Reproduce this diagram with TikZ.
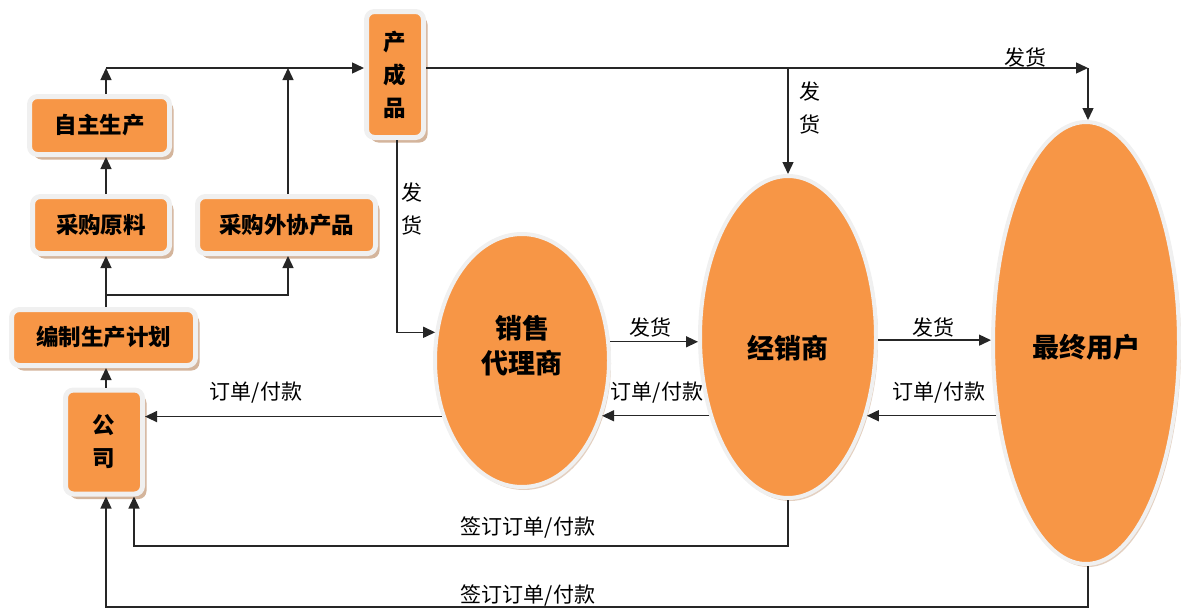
\documentclass[tikz,border=0pt]{standalone}
\usepackage{fontspec}
\setmainfont{Noto Sans CJK SC}
\usetikzlibrary{arrows.meta,shapes.geometric,shadows}
\definecolor{org}{HTML}{F79646}
\definecolor{rim}{HTML}{F0F0F0}
\definecolor{shd}{HTML}{C9A283}
\tikzset{
  box/.style={rectangle, rounded corners=8pt, fill=org, draw=rim, line width=5pt, inner sep=0pt,
    font=\bfseries\fontsize{22.5}{33}\selectfont, align=center,
    drop shadow={shadow xshift=4pt, shadow yshift=-5pt, fill=shd, opacity=0.8}},
  ell/.style={ellipse, fill=org, draw=rim, line width=4pt, inner sep=0pt,
    drop shadow={shadow xshift=2pt, shadow yshift=-3pt, fill=shd, opacity=0.5}},
  etxt/.style={font=\bfseries\fontsize{27}{35}\selectfont, align=center},
  arr/.style={-{Triangle[length=12pt,width=11pt]}, line width=1.4pt, draw=black!85},
  lbl/.style={font=\fontsize{21}{33}\selectfont, align=center, inner sep=0pt},
}
\begin{document}
\begin{tikzpicture}[x=1pt,y=-1pt]
\useasboundingbox (0,0) rectangle (1181,608);
% boxes
\node[box, minimum width=140pt, minimum height=58pt] (zizhu) at (99.5,125.5) {自主生产};
\node[box, minimum width=137pt, minimum height=57pt] (yuanliao) at (101,225) {采购原料};
\node[box, minimum width=178pt, minimum height=57pt] (waixie) at (286.5,225) {采购外协产品};
\node[box, minimum width=57pt, minimum height=126pt] (chan) at (395,74.5) {产\\成\\品};
\node[box, minimum width=184pt, minimum height=56pt] (plan) at (103.5,337.5) {编制生产计划};
\node[box, minimum width=77pt, minimum height=104pt] (company) at (104,442) {公\\司};
% ellipses
\node[ell, minimum width=174pt, minimum height=253pt,
  label={[etxt, yshift=15pt]center:销售\\代理商}] (agent) at (522,360.5) {};
\node[ell, minimum width=176pt, minimum height=322pt,
  label={[etxt, yshift=-11pt]center:经销商}] (dealer) at (788,337) {};
\node[ell, minimum width=186pt, minimum height=442pt,
  label={[etxt, yshift=-4pt]center:最终用户}] (user) at (1086,343) {};
% helper coordinates
\coordinate (L) at (106,0);
\coordinate (S) at (106,295);
\coordinate (S2) at (288,295);
\coordinate (T1) at (106,68);
\coordinate (T2) at (288,68);
\coordinate (T3) at (1088,68);
\coordinate (T4) at (788,68);
\coordinate (X1) at (397,0);
\coordinate (B1) at (0,546);
\coordinate (B2) at (134,0);
\coordinate (B3) at (0,607);
% left side
\draw[arr] (company.north -| L) -- (plan.south -| L);
\draw[arr] (plan.north -| L) -- (yuanliao.south -| L);
\draw[arr] (S) -| (waixie.south -| S2);
\draw[arr] (yuanliao.north -| L) -- (zizhu.south -| L);
\draw[arr] (zizhu.north -| L) -- (T1);
\draw[arr] (waixie.north -| T2) -- (T2);
\draw[arr] (T1) -- (chan.west |- T1);
% top distribution
\draw[arr] (chan.east |- T3) -- (T3);
\draw[arr] (T3) -- (user.north -| T3);
\draw[arr] (T4) -- (dealer.north);
\draw[arr] (chan.south -| X1) |- (agent.162.1);
% between ellipses
\draw[arr] (agent.12.8) -- (dealer.west |- agent.12.8);
\draw[arr] (dealer.-2.6) -- (user.west |- dealer.-2.6);
\draw[arr] (user.219.7) -- (dealer.-45.8 |- user.219.7);
\draw[arr] (dealer.225.8) -- (agent.-35.4 |- dealer.225.8);
\draw[arr] (agent.215.4) -- (company.east |- agent.215.4);
% bottom
\draw[arr] (dealer.south) -- (dealer.south |- B1) -| (company.south -| B2);
\draw[arr] (user.south -| T3) -- (T3 |- B3) -| (company.south -| L);
% labels
\node[lbl] (l1) at (1025,57) {发货};
\node[lbl] (l2) at (810,108) {发\\货};
\node[lbl] (l3) at (412,209) {发\\货};
\node[lbl] (l4) at (650,327) {发货};
\node[lbl] (l5) at (933,327) {发货};
\node[lbl] (l6) at (256,393) {订单/付款};
\node[lbl] (l7) at (657,393) {订单/付款};
\node[lbl] (l8) at (939,393) {订单/付款};
\node[lbl] (l9) at (528,528) {签订订单/付款};
\node[lbl] (l10) at (528,595) {签订订单/付款};
\end{tikzpicture}
\end{document}
